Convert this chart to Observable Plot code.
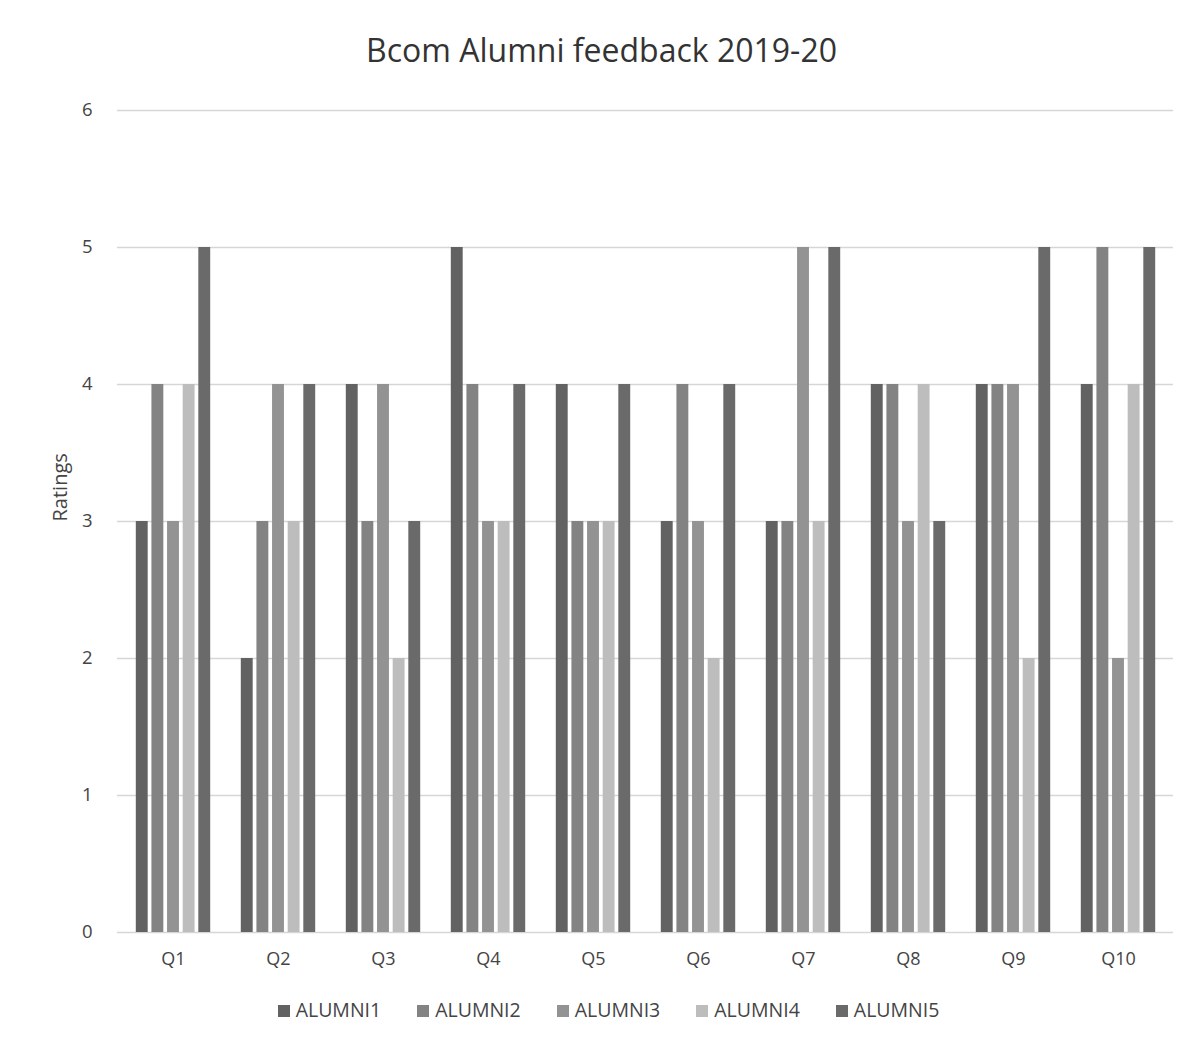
<!DOCTYPE html>
<html>
<head>
<meta charset="utf-8">
<script src="https://cdn.jsdelivr.net/npm/d3@7"></script>
<script src="https://cdn.jsdelivr.net/npm/@observablehq/plot@0.6"></script>
<style>
  body { margin: 0; background: #fff; font-family: "Open Sans", sans-serif; }
  #wrap { width: 1203px; height: 1054px; position: relative; }
  #title { position: absolute; top: 28px; left: 0; width: 1203px; text-align: center; font-size: 32px; color: #333; }
  #chart { position: absolute; top: 90px; left: 0; }
  #legend { position: absolute; top: 996px; left: 0; width: 1203px; display: flex; justify-content: center; gap: 36px; font-size: 19.5px; color: #444; padding-left: 14px; box-sizing: border-box; }
  #legend span.sw { display: inline-block; width: 12px; height: 12px; margin-right: 6px; vertical-align: 0px; }
</style>
</head>
<body>
<div id="wrap">
  <div id="title">Bcom Alumni feedback 2019-20</div>
  <div id="chart"></div>
  <div id="legend"></div>
</div>
<script>
const questions = ["Q1","Q2","Q3","Q4","Q5","Q6","Q7","Q8","Q9","Q10"];
const series = ["ALUMNI1","ALUMNI2","ALUMNI3","ALUMNI4","ALUMNI5"];
const alumni1 = [3,2,4,5,4,3,3,4,4,4];
const alumni2 = [4,3,3,4,3,4,3,4,4,5];
const alumni3 = [3,4,4,3,3,3,5,3,4,2];
const alumni4 = [4,3,2,3,3,2,3,4,2,4];
const alumni5 = [5,4,3,4,4,4,5,3,5,5];
const colors = ["#626262","#838383","#939393","#bdbdbd","#6a6a6a"];
const yTicks = [0,1,2,3,4,5,6];

const all = [alumni1, alumni2, alumni3, alumni4, alumni5];

const W = 1203, mL = 117, mR = 30;
const paddingInner = 0.26, paddingOuter = 0.13;
const step = (W - mL - mR) / (questions.length - paddingInner + 2 * paddingOuter);
const bandwidth = step * (1 - paddingInner);
const sub = bandwidth / 5;
const gap = sub * 0.23;

const barMarks = series.map((s, j) => {
  const rows = questions.map((q, i) => ({q, s, v: all[j][i]}));
  return Plot.barY(rows, {
    x: "q", y: "v", fill: "s",
    insetLeft: j * sub + gap / 2,
    insetRight: bandwidth - (j + 1) * sub + gap / 2
  });
});

const chart = Plot.plot({
  width: W,
  height: 900,
  marginTop: 20,
  marginBottom: 58,
  marginLeft: mL,
  marginRight: mR,
  style: { fontFamily: "Open Sans, sans-serif", fontSize: "17px", color: "#444", background: "#fff" },
  x: { domain: questions, paddingInner, paddingOuter, label: null },
  y: { domain: [0, 6], ticks: yTicks, label: null },
  color: { domain: series, range: colors },
  marks: [
    Plot.ruleY(yTicks, { stroke: "#d6d6d6", strokeWidth: 1.3 }),
    Plot.axisY(yTicks, { tickSize: 0, tickPadding: 25, fontSize: 18.5, fill: "#444", tickFormat: d3.format("d"), label: null }),
    Plot.axisX({ tickSize: 0, tickPadding: 20, fontSize: 18, fill: "#444", label: null }),
    ...barMarks,
    Plot.text(["Ratings"], { frameAnchor: "left", dx: -57, rotate: -90, fontSize: 20, fill: "#444" })
  ]
});
document.getElementById("chart").appendChild(chart);

const legend = document.getElementById("legend");
series.forEach((s, i) => {
  const item = document.createElement("div");
  item.innerHTML = `<span class="sw" style="background:${colors[i]}"></span>${s}`;
  legend.appendChild(item);
});
</script>
</body>
</html>
